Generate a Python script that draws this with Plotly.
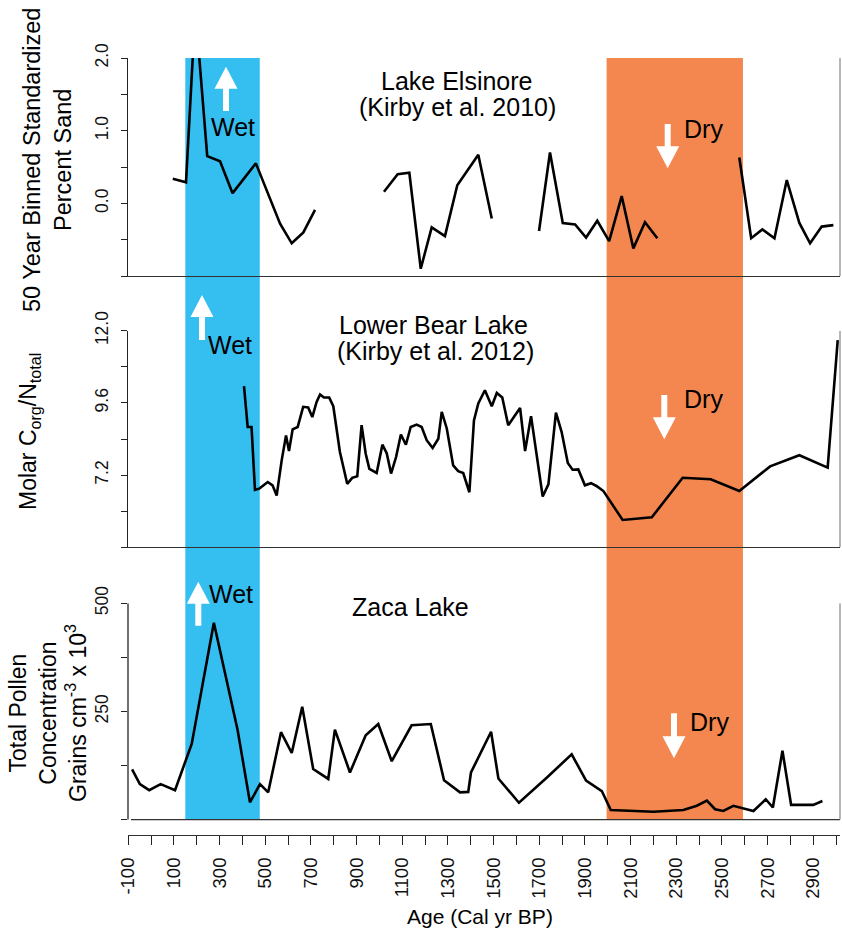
import plotly.graph_objects as go

# ---------------- data ----------------
# Lake Elsinore: 50-yr binned standardized percent sand (None = gap in record)
elsinore_age = [95, 153, 194, 246, 302, 357, 459, 565, 616, 667, 718, None,
                1020, 1080, 1131, 1181, 1229, 1287, 1341, 1433, 1492, None,
                1699, 1747, 1803, 1857, 1905, 1954, 2006, 2061, 2112, 2163, 2217, None,
                2576, 2628, 2677, 2730, 2784, 2839, 2886, 2937, 2988]
elsinore_sand = [0.34, 0.29, 2.67, 0.65, 0.58, 0.14, 0.55, -0.28, -0.55, -0.40, -0.09, None,
                 0.16, 0.40, 0.42, -0.90, -0.33, -0.45, 0.25, 0.67, -0.21, None,
                 -0.38, 0.70, -0.27, -0.29, -0.47, -0.24, -0.52, 0.10, -0.62, -0.26, -0.48, None,
                 0.63, -0.48, -0.36, -0.48, 0.32, -0.27, -0.55, -0.32, -0.30]

# Lower Bear Lake: molar C/N
bear_age = [407, 423, 440, 455, 474, 511, 532, 550, 572, 591, 604, 620, 642, 666, 688,
            706, 725, 740, 757, 780, 798, 827, 859, 881, 903, 922, 940, 956, 988, 1013,
            1032, 1051, 1073, 1094, 1116, 1137, 1163, 1185, 1207, 1233, 1258, 1273, 1295,
            1323, 1345, 1367, 1394, 1414, 1433, 1462, 1492, 1514, 1538, 1564, 1616, 1638,
            1664, 1715, 1740, 1773, 1798, 1825, 1846, 1871, 1900, 1927, 1952, 1981, 2065,
            2193, 2328, 2451, 2576, 2711, 2839, 2963, 3007]
bear_cn = [10.16, 8.80, 8.80, 6.71, 6.75, 6.97, 6.86, 6.52, 7.69, 8.52, 8.00, 8.72, 8.80, 9.47, 9.45,
           9.13, 9.63, 9.88, 9.78, 9.78, 9.49, 7.97, 6.91, 7.11, 7.16, 8.86, 7.91, 7.41, 7.27, 8.21,
           7.93, 7.25, 7.80, 8.55, 8.21, 8.80, 8.88, 8.80, 8.36, 8.10, 8.41, 9.30, 8.75,
           7.52, 7.33, 7.27, 6.63, 9.02, 9.58, 10.02, 9.49, 9.93, 9.78, 8.86, 9.43, 8.00,
           9.16, 6.49, 6.89, 9.28, 8.63, 7.60, 7.38, 7.39, 6.86, 6.93, 6.83, 6.67, 5.71,
           5.80, 7.11, 7.06, 6.67, 7.49, 7.86, 7.45, 11.69]

# Zaca Lake: total pollen concentration (grains cm-3 x 10^3)
zaca_age = [-83, -49, -8, 42, 105, 178, 275, 379, 433, 477, 513, 569, 616, 662, 710, 776,
            805, 871, 940, 995, 1054, 1141, 1225, 1283, 1353, 1389, 1401, 1489, 1521, 1611,
            1735, 1842, 1905, 1974, 2013, 2200, 2331, 2390, 2434, 2470, 2506, 2550, 2638,
            2692, 2723, 2765, 2803, 2900, 2940]
zaca_pollen = [116, 82, 68, 82, 68, 175, 455, 207, 40, 82, 63, 202, 154, 261, 117, 94,
               208, 109, 195, 221, 135, 218, 221, 91, 63, 64, 109, 203, 95, 39,
               98, 151, 90, 66, 22, 18, 22, 32, 44, 24, 20, 32, 20,
               47, 28, 159, 34, 34, 43]

# wet / dry intervals (cal yr BP)
wet_interval = [150, 476]
dry_interval = [1995, 2592]

# axis ticks (labelled major ticks; unlabelled minor ticks in between)
age_ticks = list(range(-100, 3000, 200))
age_ticklabels = [str(v) for v in age_ticks]
sand_ticks = [0.0, 1.0, 2.0]
sand_ticklabels = ["0.0", "1.0", "2.0"]
cn_ticks = [7.2, 9.6, 12.0]
cn_ticklabels = ["7.2", "9.6", "12.0"]
pollen_ticks = [250, 500]
pollen_ticklabels = ["250", "500"]

# ---------------- layout geometry ----------------
W, H = 842, 928
ML, MR, MT, MB = 128, 2, 58, 93
PW, PH = W - ML - MR, H - MT - MB
FONT = "Liberation Sans, Arial, Helvetica, sans-serif"
BLUE = "#35BEF0"
ORANGE = "#F4874F"


def fx(px):
    return (px - ML) / PW


def fy(py):
    return (H - MB - py) / PH


fig = go.Figure()

line_style = dict(color="black", width=2.6)
fig.add_trace(go.Scatter(x=elsinore_age, y=elsinore_sand, mode="lines", line=line_style,
                         connectgaps=False, xaxis="x", yaxis="y", showlegend=False))
fig.add_trace(go.Scatter(x=bear_age, y=bear_cn, mode="lines", line=line_style,
                         xaxis="x2", yaxis="y2", showlegend=False))
fig.add_trace(go.Scatter(x=zaca_age, y=zaca_pollen, mode="lines", line=line_style,
                         xaxis="x3", yaxis="y3", showlegend=False))

xrange = [-101, 3017]
ax_common = dict(range=xrange, showgrid=False, zeroline=False)
ytick_common = dict(showgrid=False, zeroline=False, ticks="outside", ticklen=6,
                    tickwidth=1.2, tickcolor="#222", tickangle=-90, ticklabelstandoff=6,
                    tickfont=dict(family=FONT, size=17.5, color="#111"))


def minor(tick0, dtick):
    return dict(tick0=tick0, dtick=dtick, ticks="outside", ticklen=6, tickwidth=1.2,
                tickcolor="#222", showgrid=False)


fig.update_layout(
    width=W, height=H,
    margin=dict(l=ML, r=MR, t=MT, b=MB),
    paper_bgcolor="white", plot_bgcolor="rgba(0,0,0,0)",
    font=dict(family=FONT, color="black"),
    xaxis=dict(**ax_common, anchor="y", matches="x3", showline=True, linecolor="#333",
               linewidth=1.3, showticklabels=False, ticks=""),
    xaxis2=dict(**ax_common, anchor="y2", matches="x3", showline=True, linecolor="#333",
                linewidth=1.3, showticklabels=False, ticks=""),
    xaxis3=dict(**ax_common, anchor="y3", showline=True, linecolor="#333", linewidth=1.3,
                tickmode="array", tickvals=age_ticks, ticktext=age_ticklabels,
                ticks="outside", ticklen=9, tickwidth=1.2, tickcolor="#222", tickangle=-90,
                ticklabelstandoff=5,
                minor=dict(tick0=-100, dtick=100, ticks="outside", ticklen=9, tickwidth=1.2,
                           tickcolor="#222", showgrid=False),
                tickfont=dict(family=FONT, size=18.5, color="#111")),
    yaxis=dict(**ytick_common, domain=[fy(276), 1.0], range=[-1, 2], anchor="x",
               showline=True, linecolor="#222", linewidth=1.3,
               tickmode="array", tickvals=sand_ticks, ticktext=sand_ticklabels,
               minor=minor(-1, 0.5)),
    yaxis2=dict(**ytick_common, domain=[fy(547.3), fy(330.7)], range=[4.8, 12.0], anchor="x2",
                showline=True, linecolor="#222", linewidth=1.3,
                tickmode="array", tickvals=cn_ticks, ticktext=cn_ticklabels,
                minor=minor(4.8, 1.2)),
    yaxis3=dict(**ytick_common, domain=[0, fy(603.3)], range=[-35.6, 500], anchor="x3",
                showline=False,
                tickmode="array", tickvals=pollen_ticks, ticktext=pollen_ticklabels,
                minor=minor(0, 125)),
)

shapes = []
# wet and dry bands spanning all three panels
for (a, b), col in ((wet_interval, BLUE), (dry_interval, ORANGE)):
    shapes.append(dict(type="rect", xref="x3", yref="paper", x0=a, x1=b,
                       y0=fy(820), y1=1.0, fillcolor=col, line=dict(width=0), layer="below"))
# bottom panel baseline and left axis line
shapes.append(dict(type="line", xref="paper", yref="y3", x0=fx(131), x1=1.0, y0=0, y1=0,
                   line=dict(color="#333", width=1.3)))
shapes.append(dict(type="line", xref="paper", yref="y3", x0=0, x1=0, y0=0, y1=500,
                   line=dict(color="#222", width=1.3)))
# grey right-hand frame lines
for yref, lo, hi in (("y", -1, 2), ("y2", 4.8, 12.0), ("y3", 0, 500)):
    shapes.append(dict(type="line", xref="paper", yref=yref, x0=1.0, x1=1.0, y0=lo, y1=hi,
                       line=dict(color="#999", width=1.4)))


def arrow(cx, y_tail, y_tip, head_len=22, head_half=11.5, shaft_half=3):
    d = 1 if y_tip > y_tail else -1  # +1 pointing down (pixel y grows downward)
    y_base = y_tip - d * head_len
    pts = [(cx - shaft_half, y_tail), (cx + shaft_half, y_tail), (cx + shaft_half, y_base),
           (cx + head_half, y_base), (cx, y_tip), (cx - head_half, y_base),
           (cx - shaft_half, y_base)]
    path = "M " + " L ".join(f"{fx(x):.5f},{fy(y):.5f}" for x, y in pts) + " Z"
    return dict(type="path", xref="paper", yref="paper", path=path,
                fillcolor="white", line=dict(width=0), layer="above")


shapes += [
    arrow(226, 111, 66.7),
    arrow(667.7, 124, 168.3),
    arrow(202, 340, 295),
    arrow(664.3, 395, 439.3),
    arrow(198.3, 625.7, 581.7),
    arrow(674, 713.3, 758.3),
]
fig.update_layout(shapes=shapes)


def label(text, px, py, size=25, angle=0):
    return dict(text=text, x=fx(px), y=fy(py), xref="paper", yref="paper",
                xanchor="center", yanchor="middle", showarrow=False, textangle=angle,
                font=dict(family=FONT, size=size, color="black"))


annotations = [
    label("Lake Elsinore", 456, 81),
    label("(Kirby et al. 2010)", 457, 107),
    label("Wet", 233, 127),
    label("Dry", 703, 129),
    label("Lower Bear Lake", 433, 325),
    label("(Kirby et al. 2012)", 435, 351),
    label("Wet", 230, 345),
    label("Dry", 703, 399),
    label("Zaca Lake", 410, 607),
    label("Wet", 231, 594),
    label("Dry", 709, 722),
    label("Age (Cal yr BP)", 480, 916, size=21),
    label("50 Year Binned Standardized<br>Percent Sand", 48, 160, size=23.5, angle=-90),
    label("Molar C<sub>org</sub>/N<sub>total</sub>", 29, 432, size=23, angle=-90),
    label("Total Pollen<br>Concentration<br>Grains cm<sup>-3</sup> x 10<sup>3</sup>", 48, 713,
          size=23, angle=-90),
]
fig.update_layout(annotations=annotations)

fig.write_html("out.html")
